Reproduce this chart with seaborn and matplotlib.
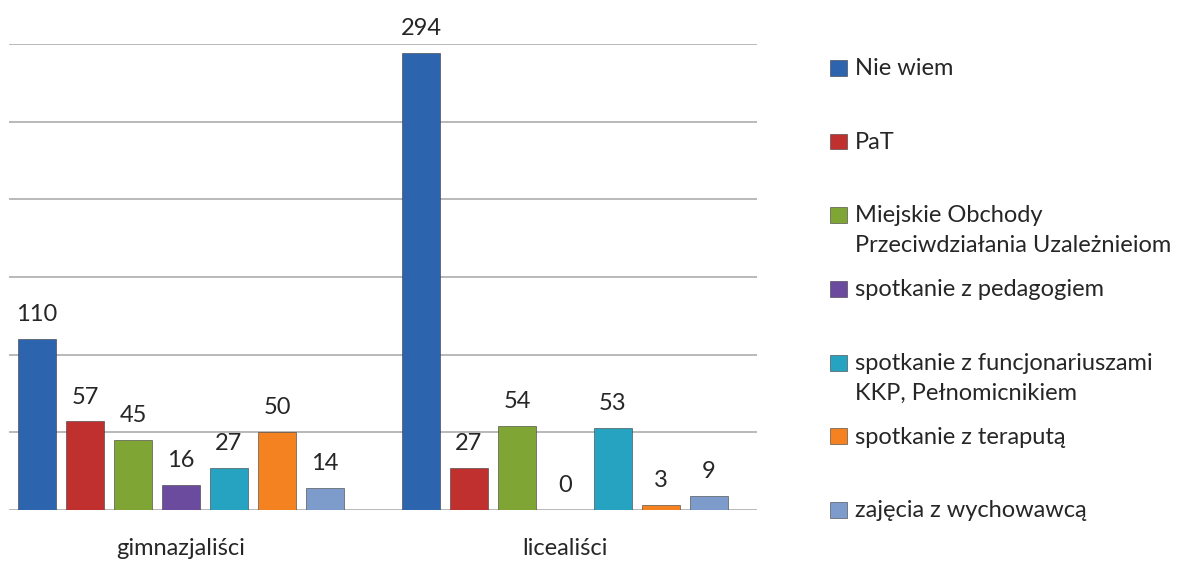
import matplotlib
matplotlib.use("Agg")
import matplotlib.pyplot as plt
import seaborn as sns
import pandas as pd

groups = ["gimnazjaliści", "licealiści"]
series = [
    "Nie wiem",
    "PaT",
    "Miejskie Obchody\nPrzeciwdziałania Uzależnieiom",
    "spotkanie z pedagogiem",
    "spotkanie z funcjonariuszami\nKKP, Pełnomicnikiem",
    "spotkanie z teraputą",
    "zajęcia z wychowawcą",
]
gimnazjalisci = [110, 57, 45, 16, 27, 50, 14]
licealisci = [294, 27, 54, 0, 53, 3, 9]
colors = ["#2C64AE", "#C0302E", "#7FA534", "#6B4B9E", "#27A3C2", "#F58220", "#7D9CCB"]

rows = []
for g, vals in zip(groups, [gimnazjalisci, licealisci]):
    for s, v in zip(series, vals):
        rows.append({"grupa": g, "rodzaj": s, "liczba": v})
df = pd.DataFrame(rows)

sns.set_style("white")
plt.rcParams["font.family"] = ["Lato", "DejaVu Sans"]
text_color = "#262626"
fs = 17

fig = plt.figure(figsize=(11.86, 5.65), dpi=100)
ax = fig.add_axes([9 / 1186, 55 / 565, 748 / 1186, 466 / 565])

sns.barplot(data=df, x="grupa", y="liczba", hue="rodzaj", hue_order=series,
            palette=colors, saturation=1, width=0.875, gap=0.19, ax=ax,
            errorbar=None, edgecolor="#3a3a3a", linewidth=0.4)

ax.set_ylim(0, 300)
ax.set_xlim((9 - 181) / 384, (757 - 181) / 384)
ax.set_yticks(range(0, 301, 50))
ax.set_yticklabels([])
ax.tick_params(axis="y", length=0)
ax.grid(axis="y", color="#A6A6A6", linewidth=1.1)
ax.set_axisbelow(True)
for sp in ax.spines.values():
    sp.set_visible(False)
ax.set_xlabel("")
ax.set_ylabel("")
ax.tick_params(axis="x", length=0, pad=20, labelsize=fs, labelcolor=text_color)

for c in ax.containers:
    ax.bar_label(c, padding=10, fontsize=fs, color=text_color)

handles, labels = ax.get_legend_handles_labels()
if ax.get_legend() is not None:
    ax.get_legend().remove()
# every legend entry gets two text lines so the first lines sit on an even grid
padded = [lab if "\n" in lab else lab + "\n" for lab in labels]
leg = fig.legend(handles, padded, loc="upper left", bbox_to_anchor=(830 / 1186, 1 - 58 / 565),
                 frameon=False, fontsize=fs, labelspacing=0.97, handlelength=0.7,
                 handleheight=0.65, handletextpad=0.35, borderpad=0, borderaxespad=0,
                 labelcolor=text_color)
for t in leg.get_texts():
    t.set_linespacing(1.52)
for h in leg.legend_handles:
    h.set_y(h.get_y() + 11.5)

fig.savefig("out.png", dpi=100)
